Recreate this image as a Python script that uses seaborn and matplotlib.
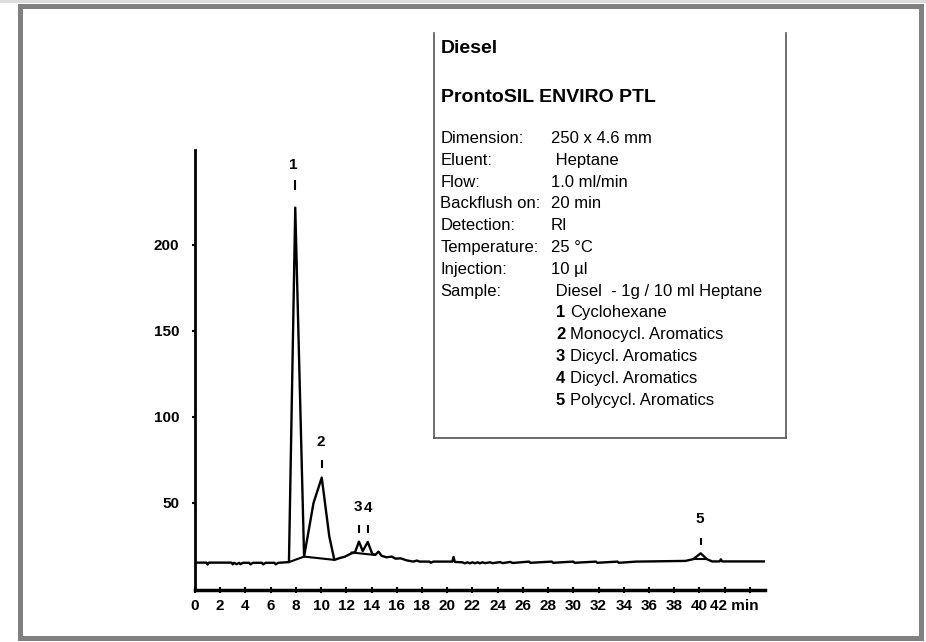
import numpy as np
import pandas as pd
import matplotlib
matplotlib.use("Agg")
import matplotlib.pyplot as plt
import seaborn as sns
from matplotlib.patches import Rectangle

# chromatogram trace (time in min, RI signal)
time_min = [0, 0.9, 1.0, 1.1, 2.9, 3.0, 3.1, 3.3, 3.5, 3.6,
            3.8, 4.3, 4.4, 4.6, 5.3, 5.4, 5.6, 6.3, 6.4, 6.6,
            7.45, 7.95, 8.65, 9.4, 10.05, 10.65, 11.05, 11.5, 11.9, 12.3,
            12.7, 13.0, 13.3, 13.7, 14.05, 14.3, 14.55, 14.8, 15.2, 15.6,
            15.9, 16.3, 16.8, 17.3, 17.6, 17.8, 18.6, 18.7, 18.9, 20.4,
            20.5, 20.6, 21.2, 21.4, 21.6, 21.8, 22.0, 22.2, 22.4, 22.6,
            22.8, 23.0, 23.4, 23.6, 24.2, 24.4, 25.0, 25.2, 26.5, 26.6,
            28.3, 28.4, 30.0, 30.1, 31.8, 31.9, 33.5, 33.6, 35.0, 35.1,
            38.9, 39.5, 40.1, 40.6, 41.0, 41.6, 41.7, 41.8, 45.2]
signal = [15.3, 15.3, 14.2, 15.3, 15.3, 14.3, 15.2, 14.4, 15.2, 14.4,
          15.2, 15.2, 14.3, 15.2, 15.2, 14.3, 15.2, 15.2, 14.3, 15.2,
          15.6, 221.5, 18.8, 50.0, 64.7, 30.5, 16.9, 18.0, 18.8, 20.3,
          21.5, 27.5, 22.0, 27.3, 20.5, 19.8, 21.7, 19.2, 18.4, 18.8,
          17.6, 17.8, 16.6, 15.9, 16.5, 15.9, 15.9, 15.2, 15.9, 15.9,
          18.6, 15.7, 15.5, 14.9, 15.5, 14.9, 15.5, 14.9, 15.5, 14.9,
          15.5, 15.0, 15.5, 15.0, 15.6, 15.0, 15.7, 15.1, 15.9, 15.2,
          15.9, 15.2, 15.9, 15.2, 15.9, 15.2, 15.9, 15.2, 15.9, 15.9,
          16.3, 17.3, 20.7, 17.3, 16.0, 16.0, 17.2, 16.0, 16.0]

# integration baselines drawn under the peaks
base_seg = [1, 1, 1, 2, 2, 3, 3]
base_time = [7.45, 8.65, 11.05, 12.4, 14.2, 39.5, 40.6]
base_signal = [15.6, 18.8, 16.9, 21.2, 19.8, 17.3, 17.3]

# peak numbering
peak_names = ["1", "2", "3", "4", "5"]
peak_label_t = [7.8, 9.95, 12.9, 13.72, 40.0]
peak_label_v = [246.5, 85.6, 47.8, 47.0, 40.7]
peak_dash_t = [7.94, 10.1, 13.04, 13.68, 40.1]
peak_dash_lo = [232.0, 70.3, 32.6, 32.6, 25.6]
peak_dash_hi = [237.5, 75.0, 37.2, 37.2, 29.7]

x_ticks = list(range(0, 45, 2))
y_ticks = [50, 100, 150, 200]

info_keys = ["Dimension:", "Eluent:", "Flow:", "Backflush on:", "Detection:",
             "Temperature:", "Injection:", "Sample:"]
info_vals = ["250 x 4.6 mm", " Heptane", "1.0 ml/min", "20 min", "RI",
             "25 °C", "10 µl", " Diesel  - 1g / 10 ml Heptane"]
comp_nums = ["1", "2", "3", "4", "5"]
comp_names = ["Cyclohexane", "Monocycl. Aromatics", "Dicycl. Aromatics",
              "Dicycl. Aromatics", "Polycycl. Aromatics"]

sns.set_style("white")
plt.rcParams['font.family'] = ['Liberation Sans', 'DejaVu Sans']
plt.rcParams['text.color'] = 'black'
plt.rcParams['xtick.color'] = 'black'
plt.rcParams['ytick.color'] = 'black'
plt.rcParams['axes.labelcolor'] = 'black'

W, H = 926, 642
fig = plt.figure(figsize=(W / 100, H / 100), dpi=100)


def fx(px):
    return px / W


def fy(py):
    return 1 - py / H


ax = fig.add_axes([fx(195), fy(590), fx(765) - fx(195), fy(150) - fy(590)])

df = pd.DataFrame({'time': time_min, 'signal': signal})
sns.lineplot(data=df, x='time', y='signal', ax=ax, color='black', lw=1.7,
             estimator=None, sort=False)
bl = pd.DataFrame({'seg': base_seg, 'time': base_time, 'signal': base_signal})
sns.lineplot(data=bl, x='time', y='signal', units='seg', ax=ax, color='black',
             lw=1.5, estimator=None, sort=False)

ax.vlines(peak_dash_t, peak_dash_lo, peak_dash_hi, color='black', lw=1.5)
for n, t, v in zip(peak_names, peak_label_t, peak_label_v):
    ax.text(t, v, n, ha='center', va='center', fontsize=11, fontweight='bold')

ax.set_xlim(0, 45.2)
ax.set_ylim(-0.6, 255)
sns.despine(ax=ax)
ax.spines['left'].set_linewidth(2)
ax.spines['bottom'].set_linewidth(2.5)
ax.spines['left'].set_color('black')
ax.spines['bottom'].set_color('black')

ax.set_xticks(x_ticks)
ax.set_xticklabels([str(t) if t <= 40 else '' for t in x_ticks])
ax.set_yticks(y_ticks)
ax.set_yticklabels([str(v) for v in y_ticks])
ax.tick_params(axis='x', direction='inout', length=5, width=1.5, pad=4,
               labelsize=11, bottom=True)
ax.tick_params(axis='y', direction='out', length=2.5, width=1.5, pad=9,
               labelsize=11, left=True)
for lbl in ax.get_xticklabels() + ax.get_yticklabels():
    lbl.set_fontweight('bold')
ax.annotate("42 min", xy=(40.8, 0), xycoords=('data', 'axes fraction'),
            xytext=(0, -6.5), textcoords='offset points', ha='left', va='top',
            fontsize=11, fontweight='bold')
ax.set_xlabel('')
ax.set_ylabel('')

# info box (open at the top)
box = fig.add_axes([fx(434), fy(438), fx(786) - fx(434), fy(33) - fy(438)])
box.set_facecolor('none')
box.set_xticks([])
box.set_yticks([])
box.spines['top'].set_visible(False)
for s in ['left', 'right', 'bottom']:
    box.spines[s].set_color('#555555')
    box.spines[s].set_linewidth(1.2)

fig.text(fx(441), fy(48.5), "Diesel", fontsize=14, fontweight='bold', va='center')
fig.text(fx(441), fy(98), "ProntoSIL ENVIRO PTL", fontsize=14, fontweight='bold',
         va='center')
row_y = 138.5
row_step = 21.8
for i, (k, v) in enumerate(zip(info_keys, info_vals)):
    y = row_y + i * row_step
    fig.text(fx(440.5), fy(y), k, fontsize=12, va='center')
    fig.text(fx(551), fy(y), v, fontsize=12, va='center')
for j, (n, c) in enumerate(zip(comp_nums, comp_names)):
    y = row_y + (len(info_keys) + j) * row_step
    fig.text(fx(556), fy(y), n, fontsize=12, fontweight='bold', va='center')
    fig.text(fx(570), fy(y), c, fontsize=12, va='center')

# outer frame
fig.patches.append(Rectangle((0, fy(3)), 1, 3 / H, transform=fig.transFigure,
                             color='#dcdcdc', lw=0))
fig.patches.append(Rectangle((fx(19.5), fy(637.5)), fx(920.5) - fx(19.5),
                             fy(5.8) - fy(637.5), transform=fig.transFigure,
                             fill=False, ec='#808080', lw=3.6))

fig.savefig("out.png", dpi=100)
